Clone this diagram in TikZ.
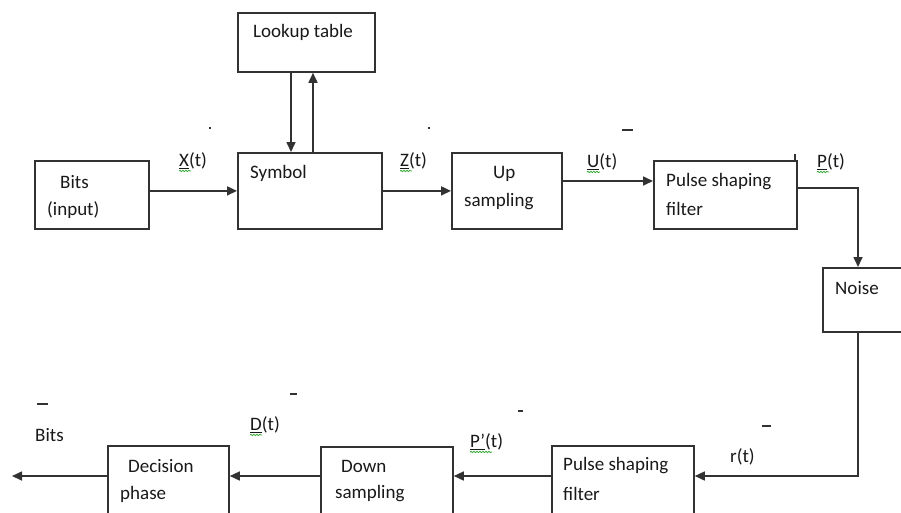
\documentclass[tikz,border=0pt]{standalone}
\usepackage{fontspec}
\setmainfont{Carlito}
\usetikzlibrary{arrows.meta,decorations.pathmorphing,calc}
\definecolor{linec}{RGB}{50,50,50}
\definecolor{txtc}{RGB}{25,25,25}
\definecolor{squigc}{RGB}{60,170,60}
\begin{document}
\begin{tikzpicture}[x=1pt,y=-1pt,
  box/.style={draw=linec, line width=1.8pt, rectangle, inner sep=0pt, anchor=north west},
  lbl/.style={anchor=west, inner sep=0pt, text=txtc, font=\fontsize{19}{22}\selectfont},
  conn/.style={draw=linec, line width=1.6pt, -{Triangle[length=10pt,width=9pt]}},
  squig/.style={draw=squigc, line width=0.8pt, decorate, decoration={snake, amplitude=0.7pt, segment length=3pt}},
  tickmk/.style={draw=linec, line width=1.2pt}
]
\clip (0,0) rectangle (901,512);
\fill[white] (0,0) rectangle (901,512);

% boxes
\node[box, minimum width=114pt, minimum height=68pt] (bits) at (34,160) {};
\node[box, minimum width=144pt, minimum height=76pt] (sym) at (237,152) {};
\node[box, minimum width=137pt, minimum height=59pt] (lut) at (237,12) {};
\node[box, minimum width=110pt, minimum height=76pt] (up) at (451,152) {};
\node[box, minimum width=143pt, minimum height=68pt] (psf) at (653,160) {};
\node[box, minimum width=90pt, minimum height=64pt] (noise) at (822,267) {};
\node[box, minimum width=142pt, minimum height=80pt] (psfb) at (551,445) {};
\node[box, minimum width=132pt, minimum height=80pt] (down) at (320,446) {};
\node[box, minimum width=121pt, minimum height=80pt] (dec) at (107,445) {};

% box texts
\node[lbl] (t1) at (60,182) {Bits};
\node[lbl] (t2) at (47,210) {(input)};
\node[lbl] (t3) at (250,173) {Symbol};
\node[lbl] (t4) at (253,32) {Lookup table};
\node[lbl] (t5) at (493,174) {Up};
\node[lbl] (t6) at (464,202) {sampling};
\node[lbl] (t7) at (666,182) {Pulse shaping};
\node[lbl] (t8) at (666,209) {filter};
\node[lbl] (t9) at (835,288) {Noise};
\node[lbl] (t10) at (563,466) {Pulse shaping};
\node[lbl] (t11) at (563,494) {filter};
\node[lbl] (t12) at (341,466) {Down};
\node[lbl] (t13) at (335,494) {sampling};
\node[lbl] (t14) at (128,466) {Decision};
\node[lbl] (t15) at (120,494) {phase};
\node[lbl] (t16) at (35,435) {Bits};

% signal labels
\node[lbl] (xt) at (179,161) {\underline{X}(t)};
\node[lbl] (zt) at (400,161) {\underline{Z}(t)};
\node[lbl] (ut) at (587,162) {\underline{U}(t)};
\node[lbl] (pt) at (817,162) {\underline{P}(t)};
\node[lbl] (rt) at (730,457) {r(t)};
\node[lbl] (ppt) at (470,442) {\underline{P’}(t)};
\node[lbl] (dt) at (250,425) {\underline{D}(t)};

% spell-check squiggles
\draw[squig] ($(xt.south west)+(0,1.5)$) -- ++(12,0);
\draw[squig] ($(zt.south west)+(0,1.5)$) -- ++(12,0);
\draw[squig] ($(ut.south west)+(0,1.5)$) -- ++(13,0);
\draw[squig] ($(pt.south west)+(0,1.5)$) -- ++(12,0);
\draw[squig] ($(ppt.south west)+(0,1.5)$) -- ++(22,0);
\draw[squig] ($(dt.south west)+(0,1.5)$) -- ++(12,0);

% helper coordinates
\coordinate (nx) at (858,0);
\coordinate (out) at (12,476);
\coordinate (ldn) at (291,0);
\coordinate (lup) at (313,0);

% connectors
\draw[conn] (bits.east |- sym.west) -- (sym.west);
\draw[conn] (sym.east) -- (up.west);
\draw[conn] (up.east |- 0,181) -- (psf.west |- 0,181);
\draw[conn] (psf.east |- 0,188) -| (nx |- noise.north);
\draw[conn] (nx |- noise.south) |- (psfb.east |- 0,476);
\draw[conn] (psfb.west |- 0,476) -- (down.east |- 0,476);
\draw[conn] (down.west |- 0,476) -- (dec.east |- 0,476);
\draw[conn] (dec.west |- 0,476) -- (out);
\draw[conn] (ldn |- lut.south) -- (ldn |- sym.north);
\draw[conn] (lup |- sym.north) -- (lup |- lut.south);

% stray marks
\draw[tickmk] (209,128) -- (211,128);
\draw[tickmk] (428,128) -- (430,128);
\draw[tickmk] (622,130) -- (633,130);
\draw[tickmk] (795,154) -- (795,160);
\draw[tickmk] (37,404) -- (48,404);
\draw[tickmk] (290,394) -- (297,394);
\draw[tickmk] (518,411) -- (523,411);
\draw[tickmk] (762,426) -- (771,426);
\end{tikzpicture}
\end{document}
